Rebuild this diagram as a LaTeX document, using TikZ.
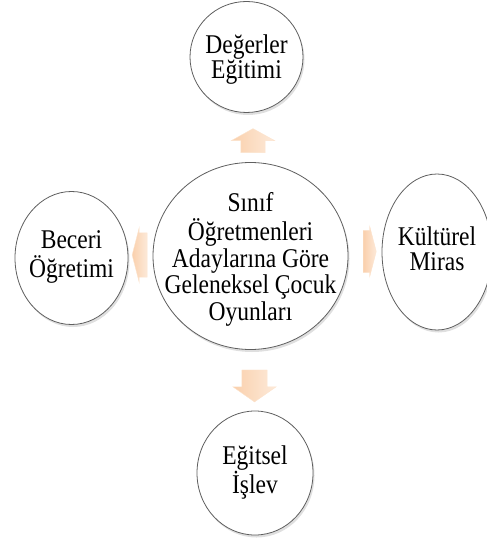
\documentclass[tikz,border=0pt]{standalone}
\usepackage{fontspec}
\setmainfont{Liberation Serif}
\usepackage{graphicx}
\usetikzlibrary{
    positioning, % for placing nodes relative to other nodes
    shapes.geometric, % ellipse
    shapes.arrows, % the block arrows between the circles
    shadows % the shadow below each circle
}

\definecolor{peach}{RGB}{250,208,172}
\definecolor{rim}{RGB}{95,95,95}

% lines of a label, slightly stretched upwards
\newcommand{\tallstack}[2]{\scalebox{1}[1.15]{\fontsize{23.6}{#1}\selectfont\begin{tabular}{@{}c@{}}#2\end{tabular}}}

\begin{document}
\begin{tikzpicture}[
    x=1bp,y=-1bp,on grid,
    bubble/.style = {ellipse,draw=rim,line width=0.8bp,fill=white,inner sep=0pt,
                     drop shadow={shadow xshift=1.5bp,shadow yshift=-2.5bp,opacity=.25}},
    words/.style  = {inner sep=0pt},
    block/.style  = {single arrow,draw=peach!60,line width=0.4bp,left color=peach,
                     right color=peach!45!white,inner xsep=0pt}
]

\useasboundingbox (0,0) rectangle (487,545);

% circles

    \node [bubble,minimum width=195bp,minimum height=187bp] (core) at (250.5,256) {};
    \node [bubble,minimum width=113bp,minimum height=111bp] (top)   [above=199bp of core,xshift=-4bp]   {};
    \node [bubble,minimum width=113bp,minimum height=133bp] (left)  [left=179bp of core,yshift=-2bp]    {};
    \node [bubble,minimum width=110bp,minimum height=156bp] (right) [right=186.5bp of core,yshift=4bp]  {};
    \node [bubble,minimum width=116bp,minimum height=124bp] (down)  [below=217bp of core,xshift=4.5bp]  {};

% texts

    \node [words,yshift=-4bp] (core-t)  at (core)  {\tallstack{22.6}{Sınıf\\Öğretmenleri\\Adaylarına Göre\\Geleneksel Çocuk\\Oyunları}};
    \node [words,yshift=-3bp] (top-t)   at (top)   {\tallstack{20.4}{Değerler\\Eğitimi}};
    \node [words]             (left-t)  at (left)  {\tallstack{20.4}{Beceri\\Öğretimi}};
    \node [words]             (right-t) at (right) {\tallstack{20.4}{Kültürel\\Miras}};
    \node [words]             (down-t)  at (down)  {\tallstack{20.4}{Eğitsel\\İşlev}};

% arrows

    \node [block,above=112bp of core,xshift=2.5bp,rotate=90,minimum height=24bp,inner ysep=12bp,
           single arrow head extend=9.5bp,single arrow tip angle=122] (to-top) {};
    \node [block,below=125.5bp of core,xshift=4bp,rotate=-90,minimum height=32bp,inner ysep=12.5bp,
           single arrow head extend=9bp,single arrow tip angle=110] (to-down) {};
    \node [block,left=108bp of core,yshift=1bp,rotate=180,minimum height=15bp,inner ysep=22bp,
           single arrow head extend=5bp,single arrow tip angle=151] (to-left) {};
    \node [block,right=116.5bp of core,yshift=4.5bp,minimum height=13bp,inner ysep=21bp,
           single arrow head extend=4bp,single arrow tip angle=151] (to-right) {};

\end{tikzpicture}
\end{document}
